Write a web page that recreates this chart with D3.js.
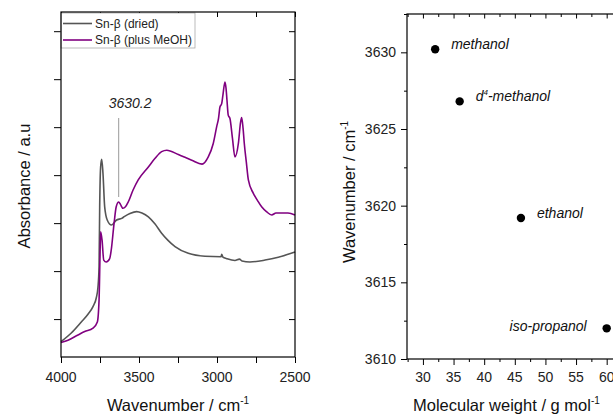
<!DOCTYPE html>
<html>
<head>
<meta charset="utf-8">
<script src="https://cdn.jsdelivr.net/npm/d3@7"></script>
<style>
  body { margin: 0; background: #fff; }
  svg { font-family: "Liberation Sans", Arial, sans-serif; }
  .tick-label { font-size: 14px; fill: #222; }
  .axis-title { font-size: 16.5px; fill: #111; }
</style>
</head>
<body>
<svg width="613" height="415"></svg>
<script>

/* DATA */
// left panel: IR spectra, wavenumber (cm-1) vs absorbance (a.u.)
const driedWn = [4000, 3934, 3870, 3827, 3795, 3774, 3763, 3756, 3752, 3746, 3739, 3731, 3720, 3703, 3676, 3646, 3611, 3592, 3558, 3515, 3481, 3440, 3397, 3355, 3314, 3269, 3184, 3077, 2974, 2970, 2962, 2938, 2885, 2856, 2840, 2789, 2692, 2607, 2500];
const driedAbs = [-0.047, -0.029, -0.006, 0.010, 0.026, 0.044, 0.067, 0.109, 0.234, 0.317, 0.333, 0.304, 0.234, 0.206, 0.196, 0.206, 0.210, 0.214, 0.220, 0.224, 0.221, 0.213, 0.198, 0.179, 0.164, 0.151, 0.137, 0.131, 0.130, 0.135, 0.129, 0.126, 0.122, 0.125, 0.121, 0.119, 0.123, 0.129, 0.140];

const meohWn = [4000, 3955, 3891, 3848, 3795, 3767, 3756, 3750, 3746, 3737, 3726, 3710, 3688, 3678, 3660, 3646, 3630, 3619, 3603, 3587, 3569, 3538, 3505, 3440, 3397, 3355, 3322, 3248, 3162, 3096, 3056, 3024, 3002, 2990, 2981, 2970, 2962, 2949, 2942, 2936, 2928, 2917, 2901, 2885, 2863, 2849, 2842, 2833, 2825, 2812, 2799, 2767, 2740, 2714, 2683, 2649, 2622, 2596, 2545, 2500];
const meohAbs = [-0.049, -0.044, -0.033, -0.026, -0.019, -0.006, 0.040, 0.130, 0.182, 0.165, 0.123, 0.119, 0.126, 0.144, 0.199, 0.234, 0.244, 0.239, 0.231, 0.234, 0.244, 0.269, 0.290, 0.317, 0.335, 0.349, 0.352, 0.343, 0.331, 0.323, 0.338, 0.366, 0.401, 0.419, 0.442, 0.449, 0.467, 0.494, 0.481, 0.456, 0.425, 0.418, 0.377, 0.338, 0.366, 0.410, 0.420, 0.398, 0.366, 0.327, 0.290, 0.262, 0.247, 0.234, 0.224, 0.217, 0.221, 0.221, 0.221, 0.217];

const seriesNames = ["Sn-\u03B2 (dried)", "Sn-\u03B2 (plus MeOH)"];
const markedPeak = 3630.2;

// right panel: O-H band position vs molecular weight
const alcohols = ["methanol", "d4-methanol", "ethanol", "iso-propanol"];
const molWeights = [32, 36, 46, 60];
const bandWn = [3630.2, 3626.8, 3619.2, 3612.0];

const xTicksLeft = [4000, 3500, 3000, 2500];
const xTicksRight = [30, 35, 40, 45, 50, 55, 60];
const yTicksRight = [3610, 3615, 3620, 3625, 3630];

const svg = d3.select("svg");

// LEFT PANEL ---------------------------------------
const left = { x0: 61, x1: 295, y0: 12, y1: 357 };

const xL = d3.scaleLinear().domain([4000, 2500]).range([left.x0, left.x1]);
const yL = d3.scaleLinear().domain([-0.079, 0.64]).range([left.y1, left.y0]);

const gL = svg.append("g");

// bottom axis, ticks out
gL.append("g")
  .attr("transform", `translate(0, ${left.y1})`)
  .call(d3.axisBottom(xL).tickValues(d3.range(4000, 2499, -250)).tickSize(6).tickFormat(""))
  .call(g => g.select(".domain").remove());
gL.selectAll("text.xl-lab")
  .data(xTicksLeft)
  .join("text")
  .attr("class", "tick-label")
  .attr("x", d => xL(d))
  .attr("y", 382)
  .attr("text-anchor", "middle")
  .text(d => d);

// top axis, ticks pointing down
gL.append("g")
  .attr("transform", `translate(0, ${left.y0})`)
  .call(d3.axisTop(xL).tickValues(d3.range(4000, 2499, -250)).tickSize(-5).tickFormat(""))
  .call(g => g.select(".domain").remove());

// left axis ticks out, no labels
const yTickVals = d3.range(0, 0.61, 0.1);
gL.append("g")
  .attr("transform", `translate(${left.x0}, 0)`)
  .call(d3.axisLeft(yL).tickValues(yTickVals).tickSize(7).tickFormat(""))
  .call(g => g.select(".domain").remove());
// right axis ticks pointing left
gL.append("g")
  .attr("transform", `translate(${left.x1}, 0)`)
  .call(d3.axisLeft(yL).tickValues(yTickVals).tickSize(6).tickFormat(""))
  .call(g => g.select(".domain").remove());

gL.selectAll(".tick line").attr("stroke", "#000");

// SPECTRA
const line = d3.line()
  .x(d => xL(d[0]))
  .y(d => yL(d[1]))
  .curve(d3.curveMonotoneX);

const driedPts = driedWn.map((w, i) => [w, driedAbs[i]]);
const meohPts = meohWn.map((w, i) => [w, meohAbs[i]]);

gL.append("path")
  .datum(driedPts)
  .attr("d", line)
  .attr("fill", "none")
  .attr("stroke", "#555")
  .attr("stroke-width", 1.6);

gL.append("path")
  .datum(meohPts)
  .attr("d", line)
  .attr("fill", "none")
  .attr("stroke", "#800080")
  .attr("stroke-width", 1.6);

// PEAK MARKER
gL.append("line")
  .attr("x1", xL(markedPeak)).attr("x2", xL(markedPeak))
  .attr("y1", 118).attr("y2", 197)
  .attr("stroke", "#999")
  .attr("stroke-width", 1);
gL.append("text")
  .attr("x", xL(markedPeak) - 10)
  .attr("y", 108)
  .attr("font-size", 14)
  .attr("font-style", "italic")
  .attr("fill", "#222")
  .text(markedPeak.toFixed(1));

// LEGEND
const legend = gL.append("g");
legend.append("rect")
  .attr("x", left.x0).attr("y", left.y0 + 1)
  .attr("width", 134).attr("height", 35)
  .attr("fill", "#fff")
  .attr("stroke", "#aaa")
  .attr("stroke-width", 0.8);
const legendColors = ["#555", "#800080"];
seriesNames.forEach((name, i) => {
  const yy = 23.5 + i * 16.5;
  legend.append("line")
    .attr("x1", 63).attr("x2", 92)
    .attr("y1", yy).attr("y2", yy)
    .attr("stroke", legendColors[i])
    .attr("stroke-width", 1.6);
  legend.append("text")
    .attr("x", 95).attr("y", yy + 4)
    .attr("font-size", 12)
    .attr("fill", "#222")
    .text(name);
});

// FRAME
gL.append("rect")
  .attr("x", left.x0).attr("y", left.y0)
  .attr("width", left.x1 - left.x0).attr("height", left.y1 - left.y0)
  .attr("fill", "none")
  .attr("stroke", "#000")
  .attr("stroke-width", 1.2);

// AXIS TITLES
gL.append("text")
  .attr("class", "axis-title")
  .attr("x", 178).attr("y", 411)
  .attr("text-anchor", "middle")
  .text("Wavenumber / cm")
  .append("tspan")
  .attr("font-size", 10)
  .attr("dy", -7)
  .text("-1");

gL.append("text")
  .attr("class", "axis-title")
  .attr("transform", `translate(30, 186) rotate(-90)`)
  .attr("text-anchor", "middle")
  .text("Absorbance / a.u");

// RIGHT PANEL --------------------------------------
const right = { x0: 407, x1: 622, y0: 14, y1: 359 };

const xR = d3.scaleLinear().domain([27.4, 62.5]).range([right.x0, right.x1]);
const yR = d3.scaleLinear().domain([3610, 3632.5]).range([right.y1, right.y0]);

const gR = svg.append("g");

const xMinorR = d3.range(27.5, 62.6, 2.5).filter(d => d % 5 !== 0);
const yMinorR = d3.range(3612.5, 3632.6, 5);

// bottom ticks out
gR.append("g")
  .attr("transform", `translate(0, ${right.y1})`)
  .call(d3.axisBottom(xR).tickValues(xTicksRight).tickSize(6).tickFormat(""))
  .call(g => g.select(".domain").remove());
gR.append("g")
  .attr("transform", `translate(0, ${right.y1})`)
  .call(d3.axisBottom(xR).tickValues(xMinorR).tickSize(3).tickFormat(""))
  .call(g => g.select(".domain").remove());
gR.selectAll("text.xr-lab")
  .data(xTicksRight)
  .join("text")
  .attr("class", "tick-label")
  .attr("x", d => xR(d))
  .attr("y", 382)
  .attr("text-anchor", "middle")
  .text(d => d);

// top ticks pointing down
gR.append("g")
  .attr("transform", `translate(0, ${right.y0})`)
  .call(d3.axisTop(xR).tickValues(xTicksRight).tickSize(-4.5).tickFormat(""))
  .call(g => g.select(".domain").remove());
gR.append("g")
  .attr("transform", `translate(0, ${right.y0})`)
  .call(d3.axisTop(xR).tickValues(xMinorR).tickSize(-3).tickFormat(""))
  .call(g => g.select(".domain").remove());

// left ticks out with labels
gR.append("g")
  .attr("transform", `translate(${right.x0}, 0)`)
  .call(d3.axisLeft(yR).tickValues(yTicksRight).tickSize(6).tickFormat(""))
  .call(g => g.select(".domain").remove());
gR.append("g")
  .attr("transform", `translate(${right.x0}, 0)`)
  .call(d3.axisLeft(yR).tickValues(yMinorR).tickSize(3).tickFormat(""))
  .call(g => g.select(".domain").remove());
gR.selectAll("text.yr-lab")
  .data(yTicksRight)
  .join("text")
  .attr("class", "tick-label")
  .attr("x", right.x0 - 11)
  .attr("y", d => yR(d) + 5)
  .attr("text-anchor", "end")
  .text(d => d);

gR.selectAll(".tick line").attr("stroke", "#000");

// FRAME
gR.append("rect")
  .attr("x", right.x0).attr("y", right.y0)
  .attr("width", right.x1 - right.x0).attr("height", right.y1 - right.y0)
  .attr("fill", "none")
  .attr("stroke", "#000")
  .attr("stroke-width", 1.2);

// POINTS + LABELS
const pts = alcohols.map((name, i) => ({ name, mw: molWeights[i], wn: bandWn[i] }));

gR.selectAll("circle.pt")
  .data(pts)
  .join("circle")
  .attr("class", "pt")
  .attr("cx", d => xR(d.mw))
  .attr("cy", d => yR(d.wn))
  .attr("r", 4.2)
  .attr("fill", "#000");

const last = pts.length - 1;
const labels = gR.selectAll("text.pt-lab")
  .data(pts)
  .join("text")
  .attr("class", "pt-lab")
  .attr("x", (d, i) => xR(d.mw) + (i === last ? -20 : 16))
  .attr("y", (d, i) => yR(d.wn) + (i === last ? 2.5 : 0))
  .attr("text-anchor", (d, i) => i === last ? "end" : "start")
  .attr("font-size", 14)
  .attr("font-style", "italic")
  .attr("fill", "#111");

labels.each(function (d) {
  const t = d3.select(this);
  if (d.name.startsWith("d4")) {
    t.append("tspan").text("d");
    t.append("tspan").attr("font-size", 8).attr("dy", -6).text("4");
    t.append("tspan").attr("dy", 6).text(d.name.slice(2));
  } else {
    t.text(d.name);
  }
});

// AXIS TITLES
gR.append("text")
  .attr("class", "axis-title")
  .attr("x", 413).attr("y", 411)
  .text("Molecular weight / g mol")
  .append("tspan")
  .attr("font-size", 10)
  .attr("dy", -7)
  .text("-1");

gR.append("text")
  .attr("class", "axis-title")
  .attr("transform", `translate(355, 192) rotate(-90)`)
  .attr("text-anchor", "middle")
  .text("Wavenumber / cm")
  .append("tspan")
  .attr("font-size", 10)
  .attr("dy", -7)
  .text("-1");

</script>
</body>
</html>
